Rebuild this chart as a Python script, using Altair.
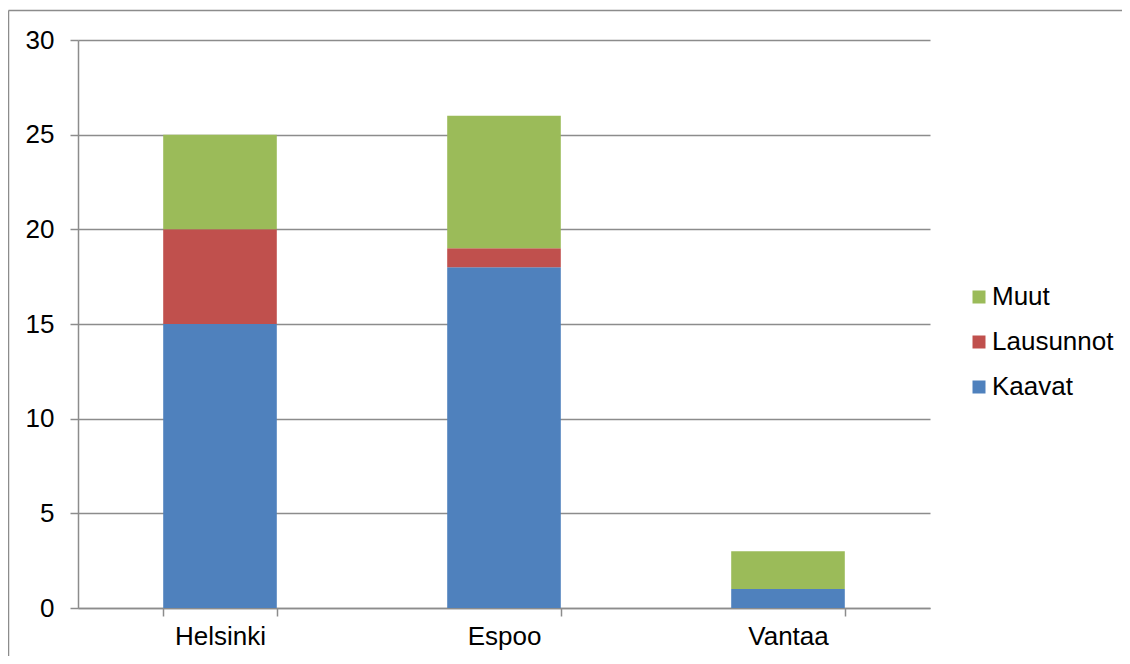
import altair as alt
import pandas as pd

cities = ["Helsinki", "Espoo", "Vantaa"]
series = ["Kaavat", "Lausunnot", "Muut"]
kaavat = [15, 18, 1]
lausunnot = [5, 1, 0]
muut = [5, 7, 2]
colors = ["#4F81BD", "#C0504D", "#9BBB59"]
y_ticks = [0, 5, 10, 15, 20, 25, 30]

rows = []
for i, c in enumerate(cities):
    for s, vals in zip(series, [kaavat, lausunnot, muut]):
        rows.append({"city": c, "series": s, "value": vals[i], "order": series.index(s)})
df = pd.DataFrame(rows)

FONT = "Liberation Sans"
GRAY = "#8c8c8c"
FS = 26

bars = alt.Chart(df).mark_bar(stroke=None).encode(
    x=alt.X("city:N", sort=cities, title=None,
            scale=alt.Scale(paddingInner=0.6, paddingOuter=0.3),
            axis=alt.Axis(labelAngle=0, labelFontSize=FS, labelFont=FONT, labelColor="#000",
                          domainColor=GRAY, domainWidth=1.5, tickColor=GRAY, tickWidth=1.5,
                          tickSize=8, tickBand="extent", labelPadding=7, grid=False)),
    y=alt.Y("value:Q", title=None,
            scale=alt.Scale(domain=[0, 30], nice=False),
            axis=alt.Axis(values=y_ticks, labelFontSize=FS, labelFont=FONT, labelColor="#000",
                          domainColor=GRAY, domainWidth=1.5, tickColor=GRAY, tickWidth=1.5,
                          tickSize=8, labelPadding=16, grid=True, gridColor=GRAY, gridWidth=1.5)),
    color=alt.Color("series:N", sort=series[::-1],
                    scale=alt.Scale(domain=series[::-1], range=colors[::-1]),
                    legend=alt.Legend(title=None, orient="none", legendX=888, legendY=244,
                                      symbolType="square", symbolSize=169, symbolStrokeWidth=0,
                                      labelFontSize=FS, labelFont=FONT, labelColor="#000",
                                      rowPadding=19, labelOffset=0)),
    order=alt.Order("order:Q", sort="ascending"),
)

border_df = pd.DataFrame({"a": [0]})
left_border = alt.Chart(border_df).mark_rule(color=GRAY, strokeWidth=1.5).encode(
    x=alt.value(-69.5), y=alt.value(-29.5), y2=alt.value(700))
top_border = alt.Chart(border_df).mark_rule(color=GRAY, strokeWidth=1.5).encode(
    x=alt.value(-69.5), x2=alt.value(1100), y=alt.value(-29.5))

chart = alt.layer(bars, left_border, top_border).properties(
    width=852, height=568,
    autosize=alt.AutoSizeParams(type="none"),
    padding={"left": 70, "top": 32, "right": 192, "bottom": 48},
).configure_view(stroke=None)

chart.save("out.html", embed_options={"renderer": "svg", "actions": False})
